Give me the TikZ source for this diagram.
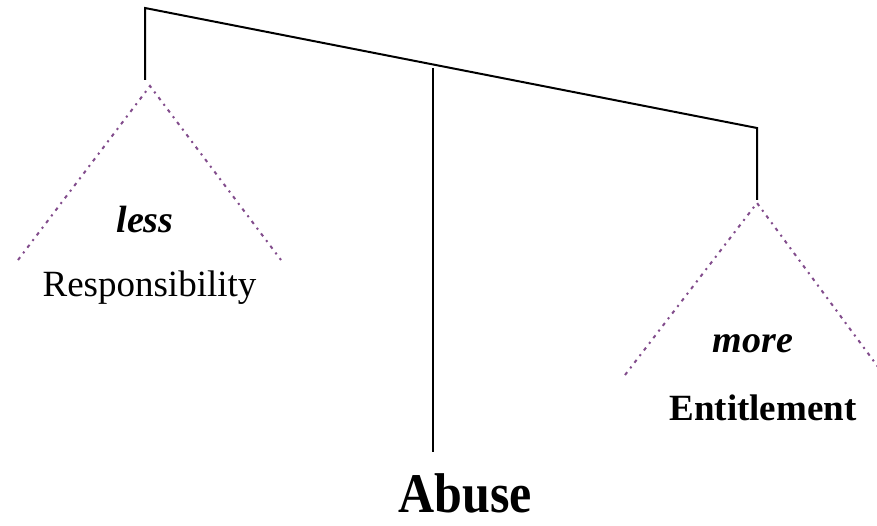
\documentclass[tikz,border=0pt]{standalone}
\usepackage{fontspec}
\setmainfont{Liberation Serif}
\usepackage{graphicx}
\usetikzlibrary{positioning}
\definecolor{trimauve}{RGB}{130,76,140}
\tikzset{
  beam/.style={black, line width=2pt},
  side/.style={trimauve, line width=2pt, dash pattern=on 3.5pt off 5pt on 2pt off 5pt},
  word/.style={anchor=base, inner sep=0pt, text depth=0pt, font=\fontsize{37}{40}\selectfont},
  hint/.style={anchor=base, inner sep=0pt, font=\fontsize{38}{40}\selectfont\bfseries\itshape}
}

\begin{document}
\begin{tikzpicture}[x=1pt,y=-1pt]
		\clip (0,0) rectangle (877,526);
		\fill[white] (0,0) rectangle (877,526);

		% beam and hangers
		\coordinate (BL) at (145,8);
		\coordinate (BR) at (757,128);
		\coordinate (HL) at (145,80);
		\coordinate (HR) at (757,200);
		\coordinate (PT) at (433,68);
		\coordinate (PB) at (433,452);

		\draw[beam] (HL) -- (BL) -- (BR) -- (HR);
		\draw[beam] (PT) -- (PB);

		% pans
		\coordinate (LA) at (150,86);
		\coordinate (L1) at (18,260);
		\coordinate (L2) at (281,260);
		\coordinate (RA) at (757,203);
		\coordinate (R1) at (625,375);
		\coordinate (R2) at (884,375);

		\draw[side] (L1) -- (LA) -- (L2);
		\draw[side] (R1) -- (RA) -- (R2);

		% labels
		\node[hint] (less) at (145,233) {less};
		\node[word] (resp) at (149.5,297) {Responsibility};
		\node[hint] (more) at (753,352) {more};
		\node[word,font=\fontsize{37}{40}\selectfont\bfseries] (enti) at (763,420) {Entitlement};
		\node[word,font=\fontsize{50}{55}\selectfont\bfseries] (abuse) at (465,512) {\scalebox{1}[1.12]{Abuse}};
\end{tikzpicture}
\end{document}
